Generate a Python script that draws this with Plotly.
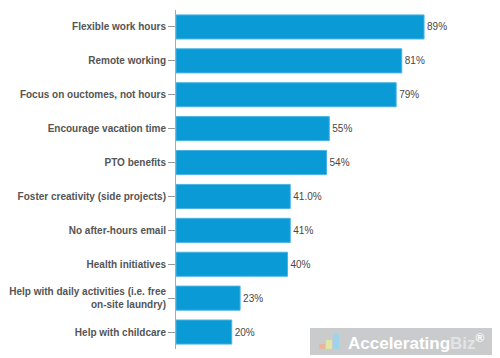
import plotly.graph_objects as go

categories = [
    "Flexible work hours",
    "Remote working",
    "Focus on ouctomes, not hours",
    "Encourage vacation time",
    "PTO benefits",
    "Foster creativity (side projects)",
    "No after-hours email",
    "Health initiatives",
    "Help with daily activities (i.e. free<br>on-site laundry)",
    "Help with childcare",
]
values = [89, 81, 79, 55, 54, 41, 41, 40, 23, 20]
value_labels = ["89%", "81%", "79%", "55%", "54%", "41.0%", "41%", "40%", "23%", "20%"]

# page body has an 8px margin, so figure coordinates = page coordinates - 8
W, H = 492, 350
L, R, T, B = 168, 12, 2, 9
PW, PH = W - L - R, H - T - B

def px(x):  # page x -> paper
    return (x - 8 - L) / PW

def py(y):  # page y -> paper
    return (H - B - (y - 8)) / PH

fig = go.Figure(
    go.Bar(
        y=categories,
        x=values,
        orientation="h",
        text=value_labels,
        textposition="outside",
        cliponaxis=False,
        textfont=dict(family="Liberation Sans, Arial", size=10, color="#474747"),
        marker=dict(color="#0a9ad6", line=dict(color="#4ab3e3", width=1)),
    )
)

fig.update_layout(
    width=W,
    height=H,
    margin=dict(l=L, r=R, t=T, b=B, autoexpand=False),
    paper_bgcolor="white",
    plot_bgcolor="white",
    bargap=0.29,
    showlegend=False,
    font=dict(family="Liberation Sans, Arial", size=10, color="#555555"),
    xaxis=dict(range=[0, PW / 2.787], visible=False),
    yaxis=dict(
        autorange="reversed",
        automargin=False,
        showline=True,
        linecolor="#aaaaaa",
        linewidth=1,
        ticks="outside",
        ticklen=7,
        tickcolor="#999999",
        tickfont=dict(family="Liberation Sans, Arial", size=10, color="#555555", weight="bold"),
        showgrid=False,
    ),
)

# watermark
fig.add_shape(type="rect", xref="paper", yref="paper", x0=px(310), x1=px(498),
              y0=py(355), y1=py(328),
              fillcolor="#c9cbcd", line=dict(width=0), layer="above")
# logo bars
for i, (h, c) in enumerate([(5, "#e8b5a0"), (9, "#dfe6a8"), (15, "#9fd3ec")]):
    x0 = 319 + i * 7
    fig.add_shape(type="rect", xref="paper", yref="paper",
                  x0=px(x0), x1=px(x0 + 6),
                  y0=py(349), y1=py(349 - h),
                  fillcolor=c, line=dict(width=0), layer="above")
fig.add_annotation(
    xref="paper", yref="paper", x=px(346), y=py(341.5),
    xanchor="left", yanchor="middle", showarrow=False,
    text="Accelerating<span style='color:#e2e4e6'>Biz</span><sup>®</sup>",
    font=dict(family="Liberation Sans, Arial", size=17, color="white", weight="bold"),
)

fig.write_html("out.html")
